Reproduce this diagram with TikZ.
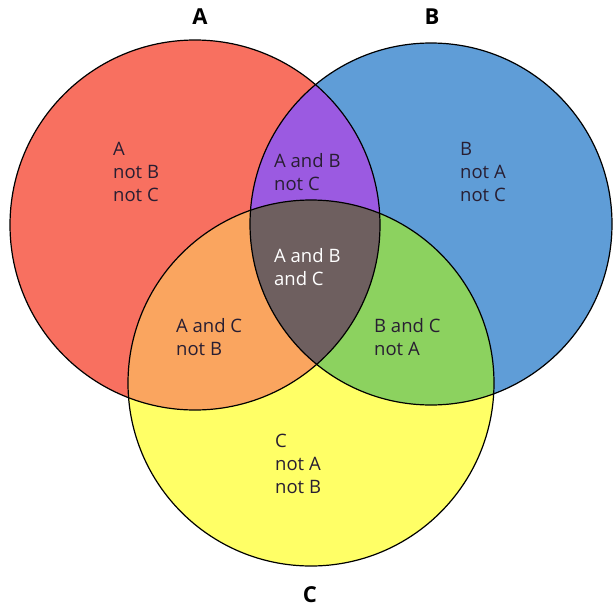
\documentclass[tikz,border=0pt]{standalone}
\usepackage{fontspec}
\setmainfont{Open Sans}
\definecolor{cA}{RGB}{248,112,96}
\definecolor{cB}{RGB}{95,157,215}
\definecolor{cC}{RGB}{255,255,102}
\definecolor{cAB}{RGB}{155,90,225}
\definecolor{cAC}{RGB}{250,165,95}
\definecolor{cBC}{RGB}{140,210,95}
\definecolor{cABC}{RGB}{110,95,95}
\definecolor{txt}{RGB}{40,30,50}
\begin{document}
\begin{tikzpicture}[x=1pt,y=-1pt,
  region/.style={align=left,anchor=west,font=\fontsize{18.5}{23}\selectfont,text=txt,inner sep=0pt},
  head/.style={font=\fontsize{22}{24}\selectfont\bfseries,text=black},
  outline/.style={draw=black,line width=1.2pt}]
\useasboundingbox (0,0) rectangle (613,608);
\def\circA{(195,225) circle[radius=185]}
\def\circB{(431,224) circle[radius=181]}
\def\circC{(311,383) circle[radius=183]}
\fill[cA] \circA;
\fill[cB] \circB;
\fill[cC] \circC;
\begin{scope}
  \clip \circA;
  \fill[cAB] \circB;
  \fill[cAC] \circC;
\end{scope}
\begin{scope}
  \clip \circB;
  \fill[cBC] \circC;
\end{scope}
\begin{scope}
  \clip \circA;
  \clip \circB;
  \fill[cABC] \circC;
\end{scope}
\draw[outline] \circA;
\draw[outline] \circB;
\draw[outline] \circC;
\node[head] (hA) at (200,17) {A};
\node[head] (hB) at (432,17) {B};
\node[head] (hC) at (310,595) {C};
\node[region] (rA) at (113,172) {A\\not B\\not C};
\node[region] (rB) at (460,172) {B\\not A\\not C};
\node[region] (rC) at (275,464) {C\\not A\\not B};
\node[region] (rAB) at (274,172) {A and B\\not C};
\node[region,text=white] (rABC) at (274,267) {A and B\\and C};
\node[region] (rAC) at (176,337) {A and C\\not B};
\node[region] (rBC) at (374,337) {B and C\\not A};
\end{tikzpicture}
\end{document}
